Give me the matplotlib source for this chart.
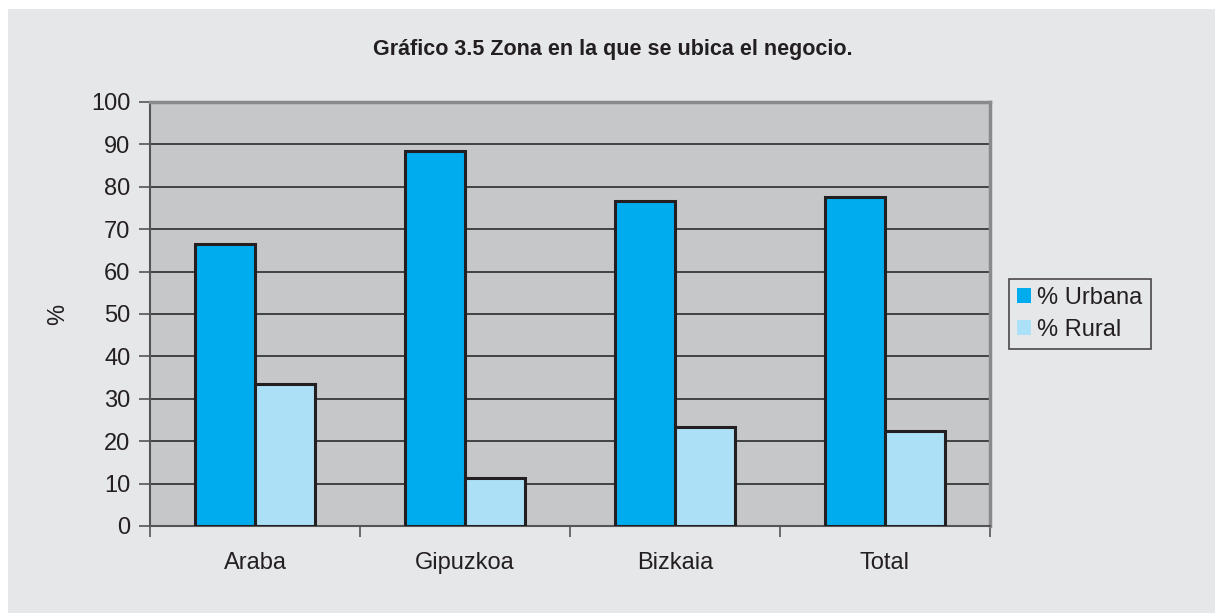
import numpy as np
import matplotlib
matplotlib.use('Agg')
import matplotlib.pyplot as plt
from matplotlib.patches import Rectangle, Patch

# data
categories = ['Araba', 'Gipuzkoa', 'Bizkaia', 'Total']
urbana = [66.5, 88.5, 76.6, 77.7]
rural = [33.5, 11.3, 23.4, 22.3]
y_ticks = list(range(0, 101, 10))

plt.rcParams['font.family'] = ['Liberation Sans', 'DejaVu Sans']

BG = '#e6e7e9'
PLOT_BG = '#c6c7c9'
C_URB = '#00aced'
C_RUR = '#abe0f7'
EDGE = '#231f20'

fig = plt.figure(figsize=(12.15, 6.13), dpi=100, facecolor='white')
# light gray panel with a thin white margin on top/left
fig.patches.append(Rectangle((8 / 1215, 0), 1 - 8 / 1215, 1 - 9 / 613,
                             transform=fig.transFigure, facecolor=BG,
                             edgecolor='none', zorder=-1))

ax = fig.add_axes([150 / 1215, 1 - 526 / 613, 840 / 1215, 424 / 613])
ax.set_facecolor(PLOT_BG)

x = np.arange(len(categories))
w = 0.285
ax.bar(x - w / 2, urbana, w, color=C_URB, edgecolor=EDGE, linewidth=2.2, zorder=3)
ax.bar(x + w / 2, rural, w, color=C_RUR, edgecolor=EDGE, linewidth=2.2, zorder=3)

ax.set_xlim(-0.5, len(categories) - 0.5)
ax.set_ylim(0, 100)
ax.set_yticks(y_ticks)
ax.yaxis.grid(True, color='#2b2b2b', linewidth=1.2, zorder=1)
ax.set_axisbelow(True)

# ticks between categories, labels centred
ax.set_xticks(np.arange(-0.5, len(categories), 1.0))
ax.set_xticklabels([])
ax.set_xticks(x, minor=True)
ax.set_xticklabels(categories, minor=True, fontsize=17, color='#231f20')
ax.tick_params(axis='x', which='minor', length=0, pad=19)
ax.tick_params(axis='x', which='major', length=8, width=1.2, color='#555555')
ax.tick_params(axis='y', length=8, width=1.2, color='#555555', labelsize=17,
               labelcolor='#231f20', pad=6)

for side in ['left', 'bottom']:
    ax.spines[side].set_color('#555555')
    ax.spines[side].set_linewidth(1.5)
for side in ['top', 'right']:
    ax.spines[side].set_color('#8a8a8c')
    ax.spines[side].set_linewidth(2.5)

ax.set_ylabel('%', fontsize=17, color='#231f20', labelpad=16)

fig.text(613 / 1215, 1 - 49 / 613, 'Gráfico 3.5 Zona en la que se ubica el negocio.',
         ha='center', va='center', fontsize=15.5, fontweight='bold', color='#231f20')

handles = [Patch(facecolor=C_URB, edgecolor='none', label='% Urbana'),
           Patch(facecolor=C_RUR, edgecolor='none', label='% Rural')]
leg = fig.legend(handles=handles, loc='upper left',
                 bbox_to_anchor=(1009 / 1215, 1 - 279 / 613),
                 fontsize=17, frameon=True, fancybox=False,
                 handlelength=0.6, handleheight=0.6, handletextpad=0.25,
                 borderpad=0.35, labelspacing=0.4, borderaxespad=0)
leg.get_frame().set_facecolor(BG)
leg.get_frame().set_edgecolor('#231f20')
leg.get_frame().set_linewidth(1.2)
for t in leg.get_texts():
    t.set_color('#231f20')

plt.savefig('out.png', dpi=100, facecolor=fig.get_facecolor())
